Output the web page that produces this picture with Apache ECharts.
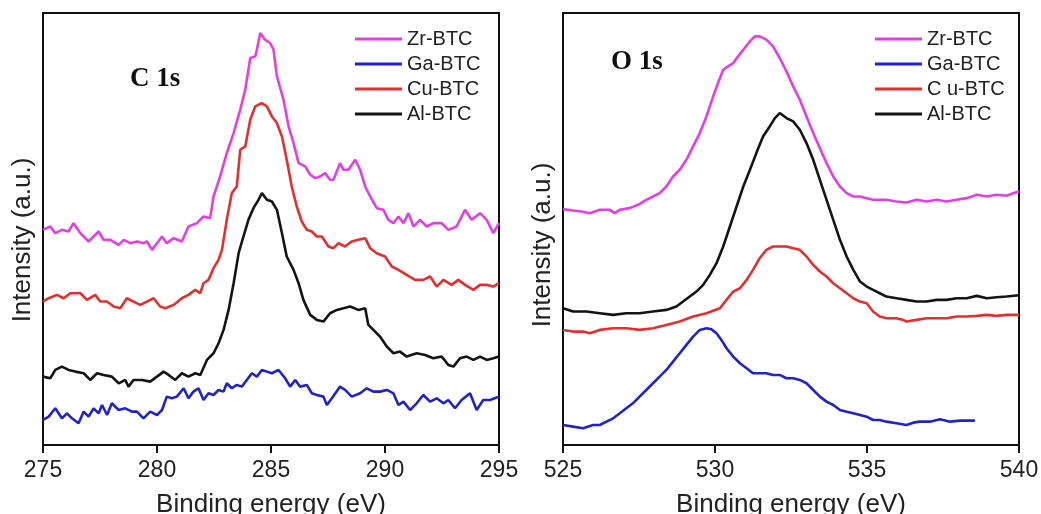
<!DOCTYPE html>
<html>
<head>
<meta charset="utf-8">
<script src="https://cdn.jsdelivr.net/npm/echarts@6/dist/echarts.min.js"></script>
<style>
  html, body { margin: 0; padding: 0; background: #fff; }
  #chart { width: 1041px; height: 514px; }
</style>
</head>
<body>
<div id="chart"></div>
<script>
// XPS spectra of M-BTC frameworks: C 1s (left) and O 1s (right) regions.
// Each series is [binding energy (eV), intensity (a.u., stacked offset)].

const seriesNames = ['Zr-BTC', 'Ga-BTC', 'Cu-BTC', 'Al-BTC'];
const seriesColors = ['#e23fe2', '#2222c8', '#e0302f', '#141414'];

// ---------- C 1s ----------
const c1sZr = [
  [275.00,64.5],[275.32,65.5],[275.54,63.5],[275.83,64.5],[276.12,64.0],[276.34,66.5],[276.64,63.5],
  [277.00,61.0],[277.22,62.5],[277.44,64.0],[277.66,61.5],[277.95,61.5],[278.32,60.0],[278.54,61.5],
  [278.83,60.5],[279.12,61.0],[279.41,60.5],[279.56,61.0],[279.78,58.5],[280.00,60.5],[280.22,62.5],
  [280.43,60.5],[280.73,62.0],[281.09,61.0],[281.38,65.5],[281.75,66.5],[282.04,68.5],[282.33,68.0],
  [282.48,74.5],[282.77,80.5],[283.06,87.5],[283.36,93.5],[283.65,100.5],[283.87,106.5],[284.09,116.0],
  [284.31,116.5],[284.38,118.5],[284.53,123.5],[284.60,124.0],[284.74,121.5],[284.96,120.5],[285.11,118.5],
  [285.26,110.5],[285.55,103.5],[285.77,95.5],[285.99,90.5],[286.21,84.5],[286.50,83.5],[286.72,81.0],
  [286.94,80.0],[287.15,80.5],[287.37,81.5],[287.59,79.5],[287.74,79.5],[288.03,84.5],[288.18,82.5],
  [288.40,82.5],[288.69,85.5],[288.91,82.5],[289.13,77.5],[289.35,74.5],[289.64,71.0],[289.93,70.5],
  [290.15,67.5],[290.37,66.5],[290.59,68.5],[290.81,66.5],[291.03,69.5],[291.25,65.5],[291.54,67.5],
  [291.83,65.5],[292.12,66.5],[292.49,66.5],[292.78,64.5],[293.14,65.5],[293.51,70.5],[293.80,67.5],
  [294.17,69.5],[294.46,67.5],[294.75,63.5],[295.00,66.5]
];
const c1sCu = [
  [275.00,43.0],[275.25,44.0],[275.61,45.0],[275.91,44.0],[276.20,45.5],[276.64,45.5],[276.93,43.5],
  [277.29,45.0],[277.51,43.0],[277.81,43.0],[278.10,41.5],[278.39,41.0],[278.68,44.0],[278.97,43.0],
  [279.27,42.0],[279.56,43.0],[279.85,44.0],[280.14,41.5],[280.36,41.0],[280.73,42.0],[281.09,44.0],
  [281.38,45.0],[281.68,46.5],[281.90,45.5],[282.04,48.5],[282.26,49.5],[282.48,53.0],[282.70,55.5],
  [282.85,58.5],[283.06,67.5],[283.28,75.5],[283.50,77.5],[283.65,88.5],[283.87,89.5],[284.09,97.5],
  [284.31,101.5],[284.60,102.5],[284.82,101.5],[285.04,98.5],[285.26,96.5],[285.48,92.5],[285.69,85.5],
  [285.91,77.5],[286.13,71.5],[286.35,67.0],[286.57,64.5],[286.79,64.0],[287.01,62.5],[287.23,62.5],
  [287.52,59.5],[287.74,59.0],[287.96,60.5],[288.25,59.5],[288.54,61.0],[288.83,61.5],[289.13,62.0],
  [289.35,59.0],[289.64,57.5],[290.00,56.5],[290.30,53.5],[290.59,52.5],[290.95,51.0],[291.32,49.5],
  [291.68,49.5],[291.98,50.5],[292.27,47.5],[292.56,49.5],[292.92,48.0],[293.22,49.5],[293.51,48.0],
  [293.88,46.5],[294.17,48.0],[294.46,48.0],[294.75,47.5],[295.00,48.5]
];
const c1sAl = [
  [275.00,20.5],[275.32,20.0],[275.54,22.5],[275.83,23.5],[276.12,22.5],[276.42,22.0],[276.78,21.5],
  [277.07,19.5],[277.37,21.5],[277.66,21.0],[278.02,20.5],[278.32,18.5],[278.61,19.5],[278.75,17.5],
  [278.97,19.5],[279.34,19.5],[279.70,19.0],[280.00,20.5],[280.29,22.0],[280.51,21.0],[280.80,19.5],
  [281.09,21.5],[281.38,20.5],[281.68,21.5],[281.90,21.0],[282.19,25.5],[282.48,27.5],[282.70,30.5],
  [282.92,34.5],[283.14,40.5],[283.36,48.5],[283.58,57.5],[283.79,62.5],[284.01,67.5],[284.23,71.0],
  [284.45,73.5],[284.60,75.5],[284.82,73.5],[285.04,73.0],[285.26,70.5],[285.48,63.5],[285.69,56.5],
  [285.99,52.5],[286.21,48.5],[286.42,43.5],[286.72,39.0],[287.01,37.5],[287.30,37.0],[287.59,39.5],
  [287.89,40.5],[288.18,41.0],[288.47,41.5],[288.83,40.5],[289.13,41.0],[289.27,36.0],[289.49,34.5],
  [289.78,32.5],[290.08,29.5],[290.37,27.5],[290.66,28.0],[290.95,26.5],[291.39,27.5],[291.76,27.0],
  [292.12,26.0],[292.49,26.5],[292.78,24.0],[293.00,23.5],[293.29,26.0],[293.58,26.5],[293.88,25.5],
  [294.17,26.5],[294.46,25.5],[294.75,26.0],[295.00,26.5]
];
const c1sGa = [
  [275.00,7.5],[275.25,8.5],[275.54,11.0],[275.83,8.0],[276.05,9.5],[276.27,8.0],[276.56,6.5],
  [276.78,10.0],[277.00,8.5],[277.22,11.0],[277.44,9.5],[277.59,12.0],[277.81,9.0],[278.02,12.5],
  [278.32,10.5],[278.61,11.0],[278.90,10.0],[279.12,10.0],[279.41,8.0],[279.70,10.0],[280.00,9.0],
  [280.22,10.5],[280.43,14.5],[280.65,14.0],[280.87,14.5],[281.17,17.0],[281.38,14.0],[281.60,16.0],
  [281.82,17.0],[282.04,13.5],[282.26,15.5],[282.48,15.0],[282.70,16.5],[282.92,16.0],[283.06,18.5],
  [283.28,17.0],[283.50,18.0],[283.72,17.5],[283.94,19.5],[284.16,21.5],[284.38,20.5],[284.60,22.5],
  [284.82,22.0],[285.04,21.5],[285.33,22.5],[285.62,20.0],[285.84,17.5],[286.06,19.5],[286.28,17.5],
  [286.57,18.0],[286.79,15.5],[287.01,15.0],[287.30,14.5],[287.45,12.0],[287.67,14.0],[288.03,17.5],
  [288.25,16.5],[288.54,14.5],[288.91,15.5],[289.20,17.0],[289.49,16.0],[289.78,16.0],[290.08,16.5],
  [290.37,15.5],[290.59,12.0],[290.81,13.0],[291.10,10.5],[291.39,12.5],[291.68,15.0],[291.98,13.0],
  [292.27,14.0],[292.56,12.5],[292.78,13.5],[293.07,11.0],[293.36,13.5],[293.73,15.5],[294.02,10.5],
  [294.31,13.5],[294.61,13.5],[295.00,14.5]
];

// ---------- O 1s ----------
const o1sZr = [
  [525.00,70.7],[525.33,70.3],[525.60,70.0],[525.88,69.5],[526.21,70.5],[526.54,70.5],[526.70,69.5],
  [526.87,70.5],[527.19,71.0],[527.47,72.0],[527.74,73.5],[527.96,74.5],[528.18,75.5],[528.40,77.5],
  [528.62,80.5],[528.84,82.5],[529.06,85.5],[529.28,89.5],[529.50,93.5],[529.72,98.5],[529.94,104.5],
  [530.10,108.5],[530.27,112.5],[530.43,113.5],[530.60,114.5],[530.76,116.5],[530.93,118.5],[531.15,121.0],
  [531.31,122.5],[531.47,122.5],[531.69,121.5],[531.91,119.5],[532.13,116.0],[532.35,112.0],[532.57,107.5],
  [532.79,103.5],[533.01,98.5],[533.23,93.5],[533.45,89.0],[533.67,84.5],[533.89,80.5],[534.11,77.5],
  [534.33,75.5],[534.55,74.5],[534.77,74.5],[534.99,74.0],[535.20,73.5],[535.42,73.5],[535.64,73.5],
  [535.97,73.0],[536.30,72.7],[536.63,73.5],[536.96,73.0],[537.29,73.5],[537.62,73.0],[537.95,73.5],
  [538.28,74.0],[538.61,75.0],[538.94,74.5],[539.26,75.0],[539.59,74.7],[539.81,75.5],[540.00,76.0]
];
const o1sAl = [
  [525.00,41.0],[525.33,40.0],[525.77,40.0],[526.21,39.5],[526.65,39.0],[527.08,39.5],[527.52,39.5],
  [527.96,40.0],[528.40,40.5],[528.73,41.5],[528.95,43.0],[529.17,44.5],[529.39,46.0],[529.61,48.0],
  [529.83,51.0],[530.05,54.5],[530.27,59.5],[530.49,65.5],[530.71,71.5],[530.93,77.5],[531.15,82.5],
  [531.36,87.5],[531.58,92.5],[531.80,95.5],[531.97,98.0],[532.13,99.5],[532.35,98.0],[532.57,97.0],
  [532.79,94.5],[533.01,90.5],[533.23,85.5],[533.45,79.5],[533.67,73.5],[533.89,67.5],[534.11,61.5],
  [534.33,56.5],[534.55,52.5],[534.77,49.0],[534.99,47.5],[535.20,46.5],[535.42,45.5],[535.64,44.5],
  [535.97,44.0],[536.30,43.5],[536.63,43.0],[536.96,43.0],[537.29,43.5],[537.62,43.5],[537.95,44.0],
  [538.28,44.0],[538.61,44.7],[538.94,44.0],[539.26,44.3],[539.59,44.5],[540.00,44.9]
];
const o1sCu = [
  [525.00,34.5],[525.33,34.0],[525.66,34.0],[525.88,33.5],[526.21,34.5],[526.65,35.0],[527.08,35.0],
  [527.52,34.5],[527.96,35.0],[528.40,36.0],[528.84,37.0],[529.28,38.5],[529.72,39.5],[530.16,41.0],
  [530.38,43.5],[530.60,46.0],[530.82,47.0],[531.04,49.5],[531.25,52.5],[531.47,56.0],[531.69,58.5],
  [531.91,59.5],[532.13,59.5],[532.35,59.5],[532.57,59.0],[532.79,58.5],[533.01,56.5],[533.23,54.0],
  [533.45,52.0],[533.67,50.5],[533.89,48.5],[534.11,47.0],[534.33,45.5],[534.55,44.0],[534.77,43.0],
  [534.99,42.5],[535.20,40.0],[535.42,38.5],[535.64,38.0],[535.97,38.0],[536.19,37.5],[536.30,37.0],
  [536.63,37.5],[536.96,38.0],[537.29,38.0],[537.62,38.0],[537.95,38.5],[538.28,38.5],[538.61,38.7],
  [538.94,39.0],[539.26,38.7],[539.59,39.0],[540.00,39.0]
];
const o1sGa = [
  [525.00,6.0],[525.33,5.5],[525.66,5.0],[525.99,6.0],[526.21,6.0],[526.43,7.0],[526.65,8.0],
  [526.87,9.5],[527.08,11.0],[527.30,12.5],[527.52,14.5],[527.74,16.5],[527.96,18.5],[528.18,20.5],
  [528.40,22.5],[528.62,25.0],[528.84,27.5],[529.06,30.0],[529.28,32.5],[529.50,34.5],[529.72,35.0],
  [529.88,34.7],[530.05,33.5],[530.21,31.5],[530.38,29.0],[530.60,26.5],[530.82,24.5],[531.04,23.0],
  [531.25,21.5],[531.47,21.5],[531.69,21.5],[531.91,21.0],[532.13,21.0],[532.35,20.0],[532.57,20.0],
  [532.79,19.5],[533.01,18.5],[533.23,16.5],[533.45,14.5],[533.67,13.0],[533.89,12.0],[534.11,10.5],
  [534.33,10.0],[534.55,9.5],[534.77,9.0],[534.99,8.5],[535.20,7.5],[535.42,7.5],[535.64,7.0],
  [535.97,6.5],[536.30,6.0],[536.52,6.7],[536.74,7.0],[537.07,7.0],[537.40,7.7],[537.73,7.0],
  [538.06,7.3],[538.55,7.3]
];

const panelTitles = ['C 1s', 'O 1s'];
const xTitle = 'Binding energy (eV)';
const yTitle = 'Intensity (a.u.)';

const c1sData = { 'Zr-BTC': c1sZr, 'Ga-BTC': c1sGa, 'Cu-BTC': c1sCu, 'Al-BTC': c1sAl };
const o1sData = { 'Zr-BTC': o1sZr, 'Ga-BTC': o1sGa, 'Cu-BTC': o1sCu, 'Al-BTC': o1sAl };

const sansFont = '"Liberation Sans", Arial, sans-serif';
const serifFont = '"Liberation Serif", "Times New Roman", serif';

function xAxisFor(idx, min, max) {
  return {
    type: 'value', gridIndex: idx, min: min, max: max, interval: 5,
    name: xTitle, nameLocation: 'middle', nameGap: 47,
    nameTextStyle: { fontFamily: sansFont, fontSize: 26, color: '#222' },
    axisLine: { show: true, lineStyle: { color: '#111', width: 2 } },
    axisTick: { show: true, inside: false, length: 8, lineStyle: { color: '#111', width: 2 } },
    axisLabel: { fontFamily: sansFont, fontSize: 23, color: '#222', margin: 14 },
    splitLine: { show: false }
  };
}
function yAxisFor(idx) {
  return {
    type: 'value', gridIndex: idx, min: 0, max: 129.5,
    axisLine: { show: true, lineStyle: { color: '#111', width: 2 } },
    axisTick: { show: false }, axisLabel: { show: false }, splitLine: { show: false }
  };
}
function seriesFor(idx, table) {
  return seriesNames.map((n, i) => ({
    name: n, type: 'line', xAxisIndex: idx, yAxisIndex: idx,
    data: table[n], showSymbol: false, symbol: 'none',
    lineStyle: { color: seriesColors[i], width: 2.6 },
    itemStyle: { color: seriesColors[i] },
    z: 2
  }));
}
function legendFor(left, labelFn) {
  return {
    orient: 'vertical', left: left, top: 29, padding: 0, data: seriesNames,
    icon: 'rect', itemWidth: 47, itemHeight: 3, itemGap: 5,
    textStyle: { fontFamily: sansFont, fontSize: 20, color: '#222', lineHeight: 20 },
    formatter: labelFn
  };
}

const chart = echarts.init(document.getElementById('chart'), null, { renderer: 'canvas' });
chart.setOption({
  animation: false,
  backgroundColor: '#fff',
  grid: [
    { left: 43, top: 13, width: 456, height: 432, show: true, borderColor: '#111', borderWidth: 2,
      outerBoundsMode: 'none' },
    { left: 563, top: 13, width: 456, height: 432, show: true, borderColor: '#111', borderWidth: 2,
      outerBoundsMode: 'none' }
  ],
  xAxis: [xAxisFor(0, 275, 295), xAxisFor(1, 525, 540)],
  yAxis: [yAxisFor(0), yAxisFor(1)],
  legend: [
    legendFor(355, n => n),
    legendFor(875, n => (n === 'Cu-BTC' ? 'C u-BTC' : n))
  ],
  graphic: [
    { type: 'text', x: 23, y: 240, rotation: Math.PI / 2,
      style: { text: yTitle, font: '26px ' + sansFont, fill: '#222', align: 'center', verticalAlign: 'middle' } },
    { type: 'text', x: 543, y: 245, rotation: Math.PI / 2,
      style: { text: yTitle, font: '26px ' + sansFont, fill: '#222', align: 'center', verticalAlign: 'middle' } },
    { type: 'text', x: 130, y: 79,
      style: { text: panelTitles[0], font: 'bold 27px ' + serifFont, fill: '#111', align: 'left', verticalAlign: 'middle' } },
    { type: 'text', x: 611, y: 62,
      style: { text: panelTitles[1], font: 'bold 27px ' + serifFont, fill: '#111', align: 'left', verticalAlign: 'middle' } }
  ],
  series: seriesFor(0, c1sData).concat(seriesFor(1, o1sData))
});
</script>
</body>
</html>
